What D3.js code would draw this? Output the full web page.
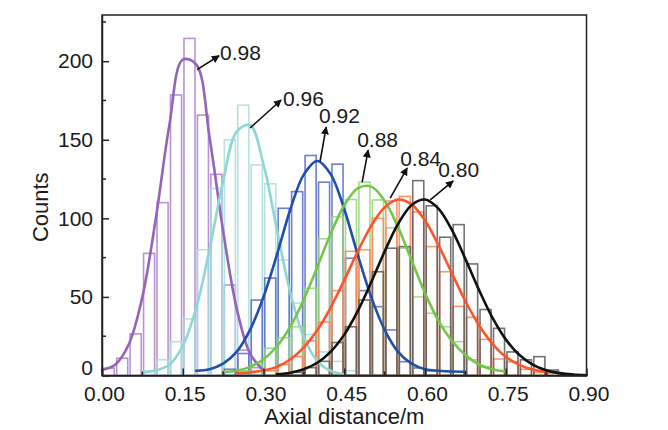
<!DOCTYPE html>
<html><head><meta charset="utf-8">
<script src="https://cdn.jsdelivr.net/npm/d3@7"></script>
<style>
body{margin:0;background:#fff;}
text{font-family:"Liberation Sans",Arial,Helvetica,sans-serif;fill:#1a1a1a;}
</style>
</head><body>
<svg id="chart" width="668" height="430"></svg>
<script>
// ---------- data ----------
const binWidth = 0.025;
const seriesNames = ["0.98", "0.96", "0.92", "0.88", "0.84", "0.80"];
const curveColors = ["#9563b8", "#8fd6d4", "#1f4faa", "#72c64a", "#ff5427", "#111111"];
const barColors   = ["#ad80cc", "#a6dfdc", "#5468c6", "#97d378", "#ff8458", "#5a5a5a"];

// histogram counts, first bin index given in barStart (bin k covers [k*0.025,(k+1)*0.025))
const barStart = [0, 3, 9, 10, 12, 13];
const bars098 = [4.6, 11, 26.5, 77.7, 110, 178.5, 214.5, 165.7, 128, 57.6, 16.2, 5];
const bars096 = [3, 10, 21.5, 36, 80, 119, 150, 172, 134, 122, 73.5, 46, 26, 15, 9, 3];
const bars092 = [4, 14, 48, 62, 106.4, 117, 140, 123, 134.5, 74.6, 54, 43.8, 29, 8.8, 4.8, 3];
const bars088 = [3, 7, 17.3, 24, 31, 55.5, 87, 101, 112, 123, 111.7, 94, 81, 50, 39.6, 31, 21.5, 10, 5.6];
const bars084 = [3, 7, 12, 22, 34, 54, 79, 80, 100, 111, 114, 104, 82, 66, 44, 37, 23, 10.5, 8.8, 4, 2];
const bars080 = [1, 2, 5, 9, 21, 31, 48, 66, 81, 82, 124, 108, 88, 96, 71, 42, 30, 15, 10, 12, 3.5, 1];

const curveStep = 0.025;
const curveStart = [0, 0.075, 0.175, 0.225, 0.25, 0.325];
const fit098 = [3.5, 7, 20, 50, 100, 159, 201, 198, 151, 92, 43, 14, 3];
const fit096 = [2, 3.2, 6.8, 18.9, 43.1, 80.6, 123.5, 155, 159.4, 134.3, 92.7, 52.4, 24.3, 9.2, 2.9, 0.7];
const fit092 = [3, 4, 7.5, 15, 29, 50, 76.9, 105.8, 128, 136.5, 128, 105.8, 76.9, 50, 29, 15, 7.5, 4, 3, 2.5, 2.4];
const fit088 = [2.2, 3, 5.5, 10.3, 18.6, 31.3, 48.4, 69.1, 90.3, 108.3, 119.1, 120.2, 111.2, 94.3, 73.4, 52.4, 34.8, 22, 13, 7, 4, 2.5];
const fit084 = [1.5, 2, 3.2, 5.5, 10.3, 17.9, 28.9, 43.4, 60.7, 78.8, 95.2, 107, 112, 108.9, 98.6, 83, 65, 47.4, 32.1, 20.3, 11.9, 6.8, 3.8, 2.2, 1.5];
const fit080 = [0.8, 1.8, 4.0, 8.1, 15.2, 26, 41, 59.3, 78.9, 96.5, 108.4, 112, 106.2, 92.6, 74.2, 54.7, 37, 23, 13.2, 6.9, 3.3, 1.5, 0.6, 0.2];

// annotation arrows (data units): from point on curve to label
const arrowFromX = [0.1766, 0.2751, 0.4052, 0.4833, 0.5353, 0.6097];
const arrowFromY = [194.6, 157.5, 136.5, 123.1, 112.9, 111.7];
const arrowToX   = [0.2175, 0.3327, 0.4164, 0.4944, 0.5669, 0.6524];
const arrowToY   = [203.5, 175.3, 158.1, 143.4, 132.0, 123.8];
const labelX     = [0.2193, 0.3364, 0.4033, 0.4740, 0.5539, 0.6245];
const labelY     = [200.7, 171.5, 160.6, 145.7, 133.2, 126.6];

const xTickValues = [0, 0.15, 0.30, 0.45, 0.60, 0.75, 0.90];
const xMinorValues = [0.075, 0.225, 0.375, 0.525, 0.675, 0.825];
const yTickValues = [0, 50, 100, 150, 200];
const yMinorValues = [25, 75, 125, 175, 225];
const xTitle = "Axial distance/m";
const yTitle = "Counts";

const allBars = [bars098, bars096, bars092, bars088, bars084, bars080];
const allFits = [fit098, fit096, fit092, fit088, fit084, fit080];

// ---------- layout ----------
const svg = d3.select("#chart");
const pL = 102, pR = 586.5, pT = 15, pB = 375.5;
const x = d3.scaleLinear().domain([0, 0.9]).range([pL, pR]);
const y = d3.scaleLinear().domain([0, 229.4]).range([pB, pT]);

svg.append("rect").attr("x", pL).attr("y", pT).attr("width", pR - pL).attr("height", pB - pT).attr("fill", "#fff");

// ---------- bars ----------
allBars.forEach((vals, s) => {
  const data = vals.map((v, i) => ({k: barStart[s] + i, v}));
  svg.append("g").selectAll("rect").data(data).join("rect")
    .attr("x", d => x(d.k * binWidth) + 1.2)
    .attr("width", d => x((d.k + 1) * binWidth) - x(d.k * binWidth) - 2.4)
    .attr("y", d => y(d.v))
    .attr("height", d => y(0) - y(d.v))
    .attr("fill", "none")
    .attr("stroke", barColors[s])
    .attr("stroke-opacity", 0.85)
    .attr("stroke-width", 1.6);
});

// ---------- fitted curves ----------
const line = d3.line().x(d => x(d[0])).y(d => y(d[1])).curve(d3.curveCatmullRom.alpha(0.5));
allFits.forEach((vals, s) => {
  const pts = vals.map((v, i) => [curveStart[s] + i * curveStep, v]);
  svg.append("path").datum(pts).attr("d", line)
    .attr("fill", "none").attr("stroke", curveColors[s]).attr("stroke-width", 2.6)
    .attr("stroke-linejoin", "round").attr("stroke-linecap", "round");
});

// ---------- frame & axes ----------
svg.append("rect").attr("x", pL).attr("y", pT).attr("width", pR - pL).attr("height", pB - pT)
  .attr("fill", "none").attr("stroke", "#222").attr("stroke-width", 1.5);

const xAxis = svg.append("g").attr("transform", `translate(0,${pB})`)
  .call(d3.axisBottom(x).tickValues(xTickValues).tickFormat(d3.format(".2f")).tickSizeInner(-7).tickSizeOuter(0).tickPadding(11));
const yAxis = svg.append("g").attr("transform", `translate(${pL},0)`)
  .call(d3.axisLeft(y).tickValues(yTickValues).tickFormat(d3.format("d")).tickSizeInner(-7).tickSizeOuter(0).tickPadding(9));
[xAxis, yAxis].forEach(g => {
  g.select(".domain").attr("stroke", "#222").attr("stroke-width", 1.5);
  g.selectAll(".tick line").attr("stroke", "#222").attr("stroke-width", 1.5);
  g.selectAll(".tick text").attr("font-size", 21).attr("fill", "#1a1a1a")
    .style("font-family", '"Liberation Sans", Arial, sans-serif');
});
xAxis.selectAll(".tick text").attr("dx", 2);
// the "0" label sits a little above its tick so it clears the x labels
yAxis.selectAll(".tick").filter(d => d === 0).select("text").attr("y", -8);

svg.append("g").selectAll("line").data(xMinorValues).join("line")
  .attr("x1", d => x(d)).attr("x2", d => x(d)).attr("y1", pB).attr("y2", pB - 4)
  .attr("stroke", "#222").attr("stroke-width", 1.5);
svg.append("g").selectAll("line").data(yMinorValues).join("line")
  .attr("x1", pL).attr("x2", pL + 4).attr("y1", d => y(d)).attr("y2", d => y(d))
  .attr("stroke", "#222").attr("stroke-width", 1.5);

svg.append("text").attr("x", (pL + pR) / 2).attr("y", 424).attr("text-anchor", "middle")
  .attr("font-size", 22).text(xTitle);
svg.append("text").attr("transform", `translate(48,${(pT + pB) / 2 + 12}) rotate(-90)`)
  .attr("text-anchor", "middle").attr("font-size", 22).text(yTitle);

// ---------- annotations ----------
svg.append("defs").append("marker").attr("id", "ah").attr("viewBox", "0 0 10 10")
  .attr("refX", 9).attr("refY", 5).attr("markerWidth", 8).attr("markerHeight", 8)
  .attr("markerUnits", "userSpaceOnUse").attr("orient", "auto")
  .append("path").attr("d", "M0,0 L10,5 L0,10 Z").attr("fill", "#111");

seriesNames.forEach((name, i) => {
  svg.append("line")
    .attr("x1", x(arrowFromX[i])).attr("y1", y(arrowFromY[i]))
    .attr("x2", x(arrowToX[i])).attr("y2", y(arrowToY[i]))
    .attr("stroke", "#111").attr("stroke-width", 1.6).attr("marker-end", "url(#ah)");
  svg.append("text").attr("x", x(labelX[i])).attr("y", y(labelY[i]))
    .attr("font-size", 21).text(name);
});
</script>
</body></html>
